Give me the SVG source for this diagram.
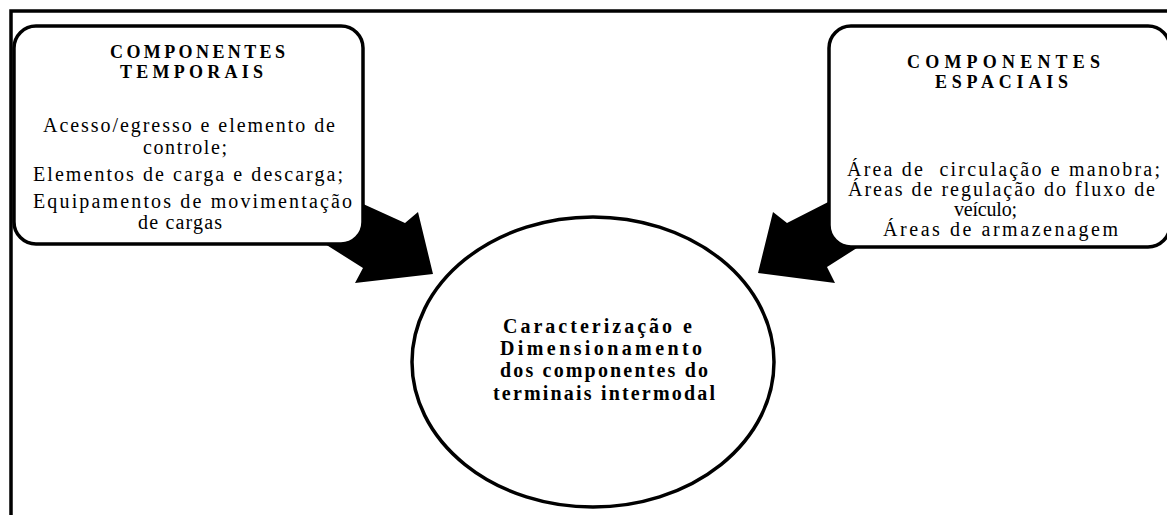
<svg xmlns="http://www.w3.org/2000/svg" width="1167" height="515" viewBox="0 0 1167 515">
  <style>
    .box { fill: #ffffff; stroke: #000000; stroke-width: 3.5; }
    .head { font-family: "Liberation Serif", "Times New Roman", serif; font-weight: bold; font-size: 18px; fill: #000; }
    .body { font-family: "Liberation Serif", "Times New Roman", serif; font-size: 20px; fill: #000; }
    .center { font-family: "Liberation Serif", "Times New Roman", serif; font-weight: bold; font-size: 20px; fill: #000; }
    .arrow { fill: #000000; stroke: none; }
  </style>
  <rect x="0" y="0" width="1167" height="515" fill="#ffffff"/>
  <path d="M 11,515 V 11 H 1167" fill="none" stroke="#000" stroke-width="3.5"/>

  <g id="connectors">
    <polygon class="arrow" points="350,198 405,223 418,212 433,274 355,283 363,268 325,244"/>
    <polygon class="arrow" points="840,196 787,223 773,212 758,273 835,283 827,267 860,246"/>
  </g>

  <g id="node-temporais">
    <rect class="box" x="14" y="26" width="349" height="218" rx="22" ry="22"/>
    <text class="head" x="110" y="58" textLength="175" lengthAdjust="spacing">COMPONENTES</text>
    <text class="head" x="120" y="78" textLength="143" lengthAdjust="spacing">TEMPORAIS</text>
    <text class="body" x="43" y="132" textLength="292" lengthAdjust="spacing">Acesso/egresso e elemento de</text>
    <text class="body" x="143" y="154" textLength="84" lengthAdjust="spacing">controle;</text>
    <text class="body" x="33" y="181" textLength="310" lengthAdjust="spacing">Elementos de carga e descarga;</text>
    <text class="body" x="33" y="208" textLength="319" lengthAdjust="spacing">Equipamentos de movimentação</text>
    <text class="body" x="138" y="229" textLength="84" lengthAdjust="spacing">de cargas</text>
  </g>

  <g id="node-espaciais">
    <rect class="box" x="829" y="26" width="341" height="221" rx="22" ry="22"/>
    <text class="head" x="907" y="68" textLength="193" lengthAdjust="spacing">COMPONENTES</text>
    <text class="head" x="935" y="88" textLength="133" lengthAdjust="spacing">ESPACIAIS</text>
    <text class="body" x="847" y="176" textLength="313" lengthAdjust="spacing" xml:space="preserve">Área de  circulação e manobra;</text>
    <text class="body" x="848" y="196" textLength="307" lengthAdjust="spacing">Áreas de regulação do fluxo de</text>
    <text class="body" x="954" y="216" textLength="63" lengthAdjust="spacing">veículo;</text>
    <text class="body" x="883" y="236" textLength="235" lengthAdjust="spacing">Áreas de armazenagem</text>
  </g>

  <g id="node-center">
    <ellipse class="box" cx="593" cy="362" rx="181" ry="145"/>
    <text class="center" x="503" y="333" textLength="189" lengthAdjust="spacing">Caracterização e</text>
    <text class="center" x="500" y="355" textLength="202" lengthAdjust="spacing">Dimensionamento</text>
    <text class="center" x="500" y="377" textLength="208" lengthAdjust="spacing">dos componentes do</text>
    <text class="center" x="493" y="400" textLength="222" lengthAdjust="spacing">terminais intermodal</text>
  </g>
</svg>
